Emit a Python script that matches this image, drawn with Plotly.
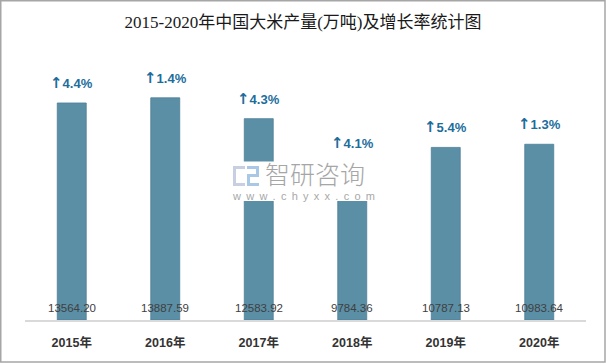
import plotly.graph_objects as go

years = ["2015年", "2016年", "2017年", "2018年", "2019年", "2020年"]
output = [13564.20, 13887.59, 12583.92, 9784.36, 10787.13, 10983.64]
growth = ["4.4%", "1.4%", "4.3%", "4.1%", "5.4%", "1.3%"]

W, H = 606, 364
L, R, T, B = 25, 20, 64, 44
PW, PH = W - L - R, H - T - B


def px(x):
    return (x - L) / PW


def py(y):
    return (H - B - y) / PH


fig = go.Figure()
fig.add_trace(go.Bar(
    x=years, y=output,
    marker=dict(color="#5b8fa6", line=dict(color="#4d7f98", width=0.8)),
    textposition="none",
    hoverinfo="skip",
))

ann = []
for yr, v, g in zip(years, output, growth):
    ann.append(dict(x=yr, y=v,
                    text="<span style='font-family:DejaVu Sans;font-size:15px'>↑</span>" + g,
                    showarrow=False, yanchor="bottom", yshift=9,
                    font=dict(family="Liberation Sans, DejaVu Sans", size=13, color="#1c6d9c",
                              weight="bold"),
                    xref="x", yref="y"))
    ann.append(dict(x=yr, y=0, text=f"{v:.2f}", showarrow=False, yanchor="bottom", yshift=4,
                    font=dict(family="Liberation Sans, DejaVu Sans", size=11.5, color="#404040"),
                    xref="x", yref="y"))

# watermark
ann.append(dict(x=px(264), y=py(172.5), xref="paper", yref="paper", text="智研咨询", showarrow=False,
                xanchor="left", yanchor="middle", borderpad=0,
                font=dict(family="Noto Sans CJK SC", size=25, color="#a6a6a6", weight=300)))
wm = " &#8201;".join(list("www.chyxx.com"))
ann.append(dict(x=px(231), y=py(195.5), xref="paper", yref="paper",
                text=wm, showarrow=False, borderpad=0,
                xanchor="left", yanchor="middle",
                font=dict(family="Liberation Sans", size=11, color="#a8a8a8")))

shapes = [
    dict(type="rect", xref="paper", yref="paper", x0=px(229), x1=px(378), y0=py(201), y1=py(161.5),
         fillcolor="white", line=dict(width=0), layer="above"),
    # logo icon
    dict(type="rect", xref="paper", yref="paper", x0=px(233), x1=px(245), y0=py(169), y1=py(166),
         fillcolor="#c8cfe2", line=dict(width=0), layer="above"),
    dict(type="rect", xref="paper", yref="paper", x0=px(233), x1=px(236), y0=py(186), y1=py(166),
         fillcolor="#c8cfe2", line=dict(width=0), layer="above"),
    dict(type="rect", xref="paper", yref="paper", x0=px(233), x1=px(245), y0=py(186), y1=py(183),
         fillcolor="#c8cfe2", line=dict(width=0), layer="above"),
    dict(type="rect", xref="paper", yref="paper", x0=px(247), x1=px(259), y0=py(169), y1=py(166),
         fillcolor="#a9c8e6", line=dict(width=0), layer="above"),
    dict(type="rect", xref="paper", yref="paper", x0=px(256), x1=px(259), y0=py(177), y1=py(166),
         fillcolor="#a9c8e6", line=dict(width=0), layer="above"),
    dict(type="rect", xref="paper", yref="paper", x0=px(247), x1=px(259), y0=py(177), y1=py(174),
         fillcolor="#a9c8e6", line=dict(width=0), layer="above"),
    dict(type="rect", xref="paper", yref="paper", x0=px(247), x1=px(250), y0=py(186), y1=py(174),
         fillcolor="#a9c8e6", line=dict(width=0), layer="above"),
    dict(type="rect", xref="paper", yref="paper", x0=px(247), x1=px(259), y0=py(186), y1=py(183),
         fillcolor="#a9c8e6", line=dict(width=0), layer="above"),
    # frame
    dict(type="rect", xref="paper", yref="paper", x0=px(0.75), x1=px(605), y0=py(362), y1=py(0.75),
         fillcolor="rgba(0,0,0,0)", line=dict(color="#a6a6a6", width=1.5), layer="above"),
]

fig.update_layout(
    width=W, height=H,
    margin=dict(l=L, r=R, t=T, b=B),
    paper_bgcolor="white", plot_bgcolor="white",
    bargap=0.69,
    showlegend=False,
    title=dict(text="2015-2020年中国大米产量(万吨)及增长率统计图", x=0.5, xanchor="center",
               y=1 - 22 / H, yanchor="middle",
               font=dict(family="Liberation Serif, Noto Sans CJK SC", size=17, color="#1a1a1a")),
    xaxis=dict(showline=True, linecolor="#d9d9d9", linewidth=1.5, ticks="outside", ticklen=10,
               tickcolor="rgba(0,0,0,0)",
               tickfont=dict(family="Liberation Sans, Noto Sans CJK SC", size=12.5, color="#333333",
                             weight="bold"),
               fixedrange=True),
    yaxis=dict(range=[0, 16000], visible=False, showgrid=False, fixedrange=True),
    annotations=ann,
    shapes=shapes,
)

fig.write_html("out.html", config={"displayModeBar": False},
               post_script="document.body.style.margin='0';document.body.style.overflow='hidden';")
